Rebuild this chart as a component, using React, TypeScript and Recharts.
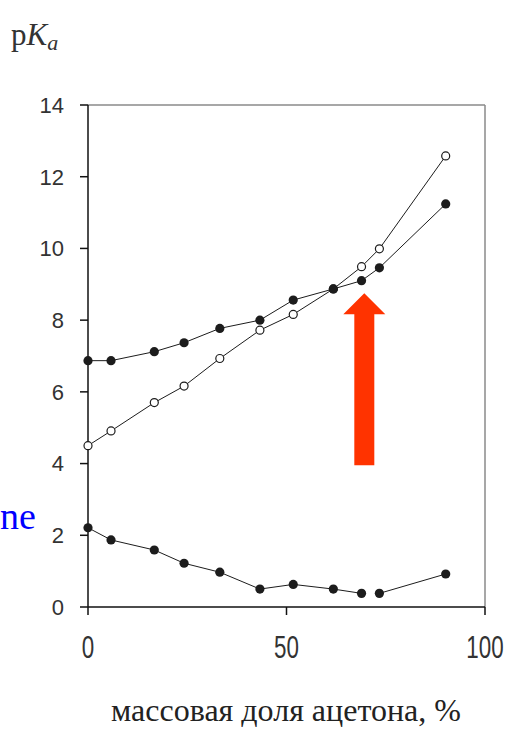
import React from "react"
import {
  ComposedChart,
  Scatter,
  XAxis,
  YAxis,
  ReferenceLine,
  ReferenceDot,
} from "recharts"

/* ── data ── */
const acetone = [0, 5.8, 16.7, 24.2, 33.2, 43.3, 51.7, 61.8, 68.9, 73.4, 90.1]
const pKaUpper = [6.87, 6.87, 7.12, 7.37, 7.77, 8.0, 8.56, 8.87, 9.1, 9.46, 11.24]
const pKaOpen = [4.5, 4.91, 5.7, 6.16, 6.93, 7.72, 8.16, 8.87, 9.49, 9.99, 12.58]
const pKaLower = [2.21, 1.87, 1.59, 1.22, 0.97, 0.5, 0.63, 0.5, 0.38, 0.38, 0.92]
const lowerBreak = 9 // the lower curve is not joined between 68.9 and 73.4
const xTicks = [0, 50, 100]
const yTicks = [0, 2, 4, 6, 8, 10, 12, 14]
const arrowTip = { x: 69.6, y: 8.75 }

const toPoints = (ys: number[]) => acetone.map((x, i) => ({ x, y: ys[i] }))
const upperPts = toPoints(pKaUpper)
const openPts = toPoints(pKaOpen)
const lowerPts = toPoints(pKaLower)

const INK = "#1c1c1c"

function FilledDot({ cx, cy }: any) {
  return <circle cx={cx} cy={cy} r={4.6} fill={INK} />
}

function OpenDot({ cx, cy }: any) {
  return <circle cx={cx} cy={cy} r={4} fill="#fff" stroke={INK} strokeWidth={1.2} />
}

function XTick({ x, y, payload }: any) {
  return (
    <text
      transform={`translate(${x},${y + 41}) scale(0.7,1)`}
      textAnchor="middle"
      fontFamily="'Liberation Sans', Arial, sans-serif"
      fontSize={32}
      fill="#333"
    >
      {payload.value}
    </text>
  )
}

function Arrow({ cx, cy }: any) {
  const d = `M${cx},${cy} L${cx + 21},${cy + 21} L${cx + 10},${cy + 21} L${cx + 10},${cy + 172} L${cx - 10},${cy + 172} L${cx - 10},${cy + 21} L${cx - 21},${cy + 21} Z`
  return <path d={d} fill="#ff3300" />
}

export default function App() {
  return (
    <div style={{ position: "absolute", left: 0, top: 0, width: 510, height: 735, background: "#fff", overflow: "hidden" }}>
      <div style={{ position: "absolute", left: 11, top: 17, fontFamily: "'Liberation Serif', serif", fontSize: 31, color: "#333", lineHeight: 1.15 }}>
        p<i>K</i><sub style={{ fontSize: 22, verticalAlign: "-5px" }}><i>a</i></sub>
      </div>
      <div style={{ position: "absolute", left: 0, top: 495, fontFamily: "'Liberation Serif', serif", fontSize: 38, color: "#0000ff", lineHeight: 1.15 }}>
        ne
      </div>
      <ComposedChart width={510} height={735} margin={{ top: 105, right: 25, bottom: 0, left: 0 }}>
        <XAxis
          type="number"
          dataKey="x"
          domain={[0, 100]}
          ticks={xTicks}
          height={128}
          tickSize={8}
          tick={<XTick />}
          axisLine={{ stroke: "#111", strokeWidth: 1.5 }}
          tickLine={{ stroke: "#111", strokeWidth: 1.5 }}
        />
        <YAxis
          type="number"
          dataKey="y"
          domain={[0, 14]}
          ticks={yTicks}
          width={88}
          tickSize={8}
          tickMargin={16}
          tick={{ fontSize: 22, fill: "#333", fontFamily: "'Liberation Sans', Arial, sans-serif" }}
          axisLine={{ stroke: "#111", strokeWidth: 1.5 }}
          tickLine={{ stroke: "#111", strokeWidth: 1.5 }}
        />
        <ReferenceLine y={14} stroke="#8a8a8a" strokeWidth={1.5} />
        <ReferenceLine x={100} stroke="#8a8a8a" strokeWidth={1.5} />
        <Scatter data={openPts} line={{ stroke: INK, strokeWidth: 1 }} shape={<OpenDot />} isAnimationActive={false} />
        <Scatter data={upperPts} line={{ stroke: INK, strokeWidth: 1 }} shape={<FilledDot />} isAnimationActive={false} />
        <Scatter data={lowerPts.slice(0, lowerBreak)} line={{ stroke: INK, strokeWidth: 1 }} shape={<FilledDot />} isAnimationActive={false} />
        <Scatter data={lowerPts.slice(lowerBreak)} line={{ stroke: INK, strokeWidth: 1 }} shape={<FilledDot />} isAnimationActive={false} />
        <ReferenceDot x={arrowTip.x} y={arrowTip.y} shape={<Arrow />} />
      </ComposedChart>
      <div style={{ position: "absolute", left: 0, width: 572, top: 692, textAlign: "center", fontFamily: "'Liberation Serif', serif", fontSize: 32, color: "#222", whiteSpace: "nowrap" }}>
        массовая доля ацетона, %
      </div>
    </div>
  )
}
